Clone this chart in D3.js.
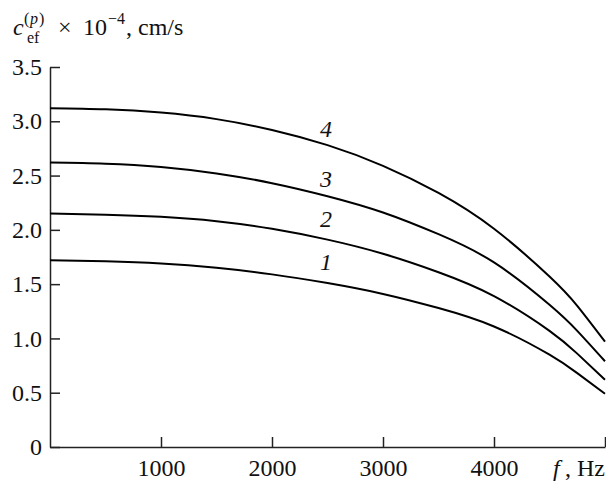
<!DOCTYPE html>
<html>
  <head>
    <meta charset="UTF-8">
    <script src="https://cdn.jsdelivr.net/npm/d3@7"></script>
    <style type="text/css">
      body { margin: 0; background: white; }
      .axis path, .axis line { stroke: #222; stroke-width: 1.5; }
      .curve { fill: none; stroke: #000; stroke-width: 2; }
    </style>
  </head>
<body>
<script type="text/javascript">
var svgWidth = 606;
var svgHeight = 483;
var serif = '"Liberation Serif", "Times New Roman", Times, serif';

// frequency grid, Hz
var freq = [0, 500, 1000, 1500, 2000, 2500, 3000, 3500, 4000, 4500, 4750, 5000];

// c_ef x 1e-4 cm/s for each curve
var curve1 = [1.72, 1.71, 1.69, 1.65, 1.59, 1.51, 1.41, 1.28, 1.11, 0.85, 0.68, 0.49];
var curve2 = [2.15, 2.14, 2.12, 2.08, 2.01, 1.91, 1.78, 1.61, 1.39, 1.07, 0.86, 0.62];
var curve3 = [2.62, 2.61, 2.58, 2.52, 2.43, 2.31, 2.16, 1.96, 1.70, 1.31, 1.07, 0.79];
var curve4 = [3.12, 3.11, 3.08, 3.02, 2.92, 2.78, 2.59, 2.34, 2.01, 1.57, 1.30, 0.97];

var curveNames = ['1', '2', '3', '4'];
var labelF = 2450;
var labelV = [1.70, 2.10, 2.47, 2.93];

var xTicks = [1000, 2000, 3000, 4000, 5000];
var yTicks = [0, 0.5, 1.0, 1.5, 2.0, 2.5, 3.0, 3.5];

var margin = {top: 67, right: 1, bottom: 36, left: 50}

var svg = d3.select("body").append("svg")
  .attr("width", svgWidth)
  .attr("height", svgHeight)

var x = d3.scaleLinear()
  .domain([0, 5000])
  .range([margin.left, svgWidth - margin.right]);

var y = d3.scaleLinear()
  .domain([0, 3.5])
  .range([svgHeight - margin.bottom, margin.top]);

// axes, ticks pointing inward
var xAxis = d3.axisBottom(x)
  .tickValues(xTicks)
  .tickSizeInner(-10)
  .tickSizeOuter(0)
  .tickFormat(function(d) { return d == 5000 ? '' : d; });

var yAxis = d3.axisLeft(y)
  .tickValues(yTicks)
  .tickSizeInner(-10)
  .tickSizeOuter(0)
  .tickPadding(8)
  .tickFormat(function(d) { return d == 0 ? '0' : d3.format('.1f')(d); });

function serifText(g) {
  g.attr("font-family", null).attr("font-size", null);
  g.selectAll("text")
    .style("font-family", serif)
    .style("font-size", "24px")
    .style("fill", "#111");
}

svg.append("g")
  .attr("class", "axis")
  .attr("transform", "translate(0," + y(0) + ")")
  .call(xAxis)
  .call(serifText)
  .call(function(g) { g.selectAll("text").attr("y", 0).attr("dy", 0).attr("transform", "translate(0,29)"); });

svg.append("g")
  .attr("class", "axis")
  .attr("transform", "translate(" + x(0) + ",0)")
  .call(yAxis)
  .call(serifText);

// curves
var line = d3.line()
  .x(function(d) { return x(d[0]); })
  .y(function(d) { return y(d[1]); })
  .curve(d3.curveNatural);

function label(tx, ty, str, size, italic, anchor) {
  return svg.append("text")
    .attr("x", tx)
    .attr("y", ty)
    .attr("text-anchor", anchor || "start")
    .style("font-family", serif)
    .style("font-size", size + "px")
    .style("font-style", italic ? "italic" : "normal")
    .style("fill", "#111")
    .text(str);
}

[curve1, curve2, curve3, curve4].forEach(function(vals, i) {
  svg.append("path")
    .attr("class", "curve")
    .attr("d", line(freq.map(function(f, j) { return [f, vals[j]]; })));

  label(x(labelF) + 4, y(labelV[i]) + 8, curveNames[i], 24, true, "middle");
});

// y axis title
label(13, 35, "c", 24, true);
label(24, 24, "(", 16, false);
label(30, 24, "p", 16, true);
label(39, 24, ")", 16, false);
label(27, 43, "ef", 16, false);
label(58, 35, "×", 24, false);
label(83, 35, "10", 24, false);
label(108, 24, "−4", 16, false);
label(126, 35, ", cm/s", 24, false);

// x axis title
label(553, y(0) + 29, "f", 24, true);
label(svgWidth - 1, y(0) + 29, ", Hz", 24, false, "end");
</script>
</body>
</html>
